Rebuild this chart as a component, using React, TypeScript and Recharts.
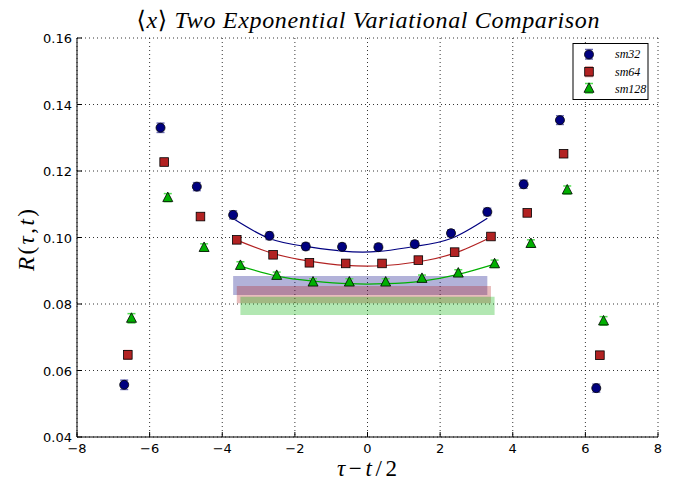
import { ComposedChart, Scatter, Line, XAxis, YAxis, CartesianGrid, ReferenceArea, ErrorBar } from 'recharts';

// tau - t/2 (each ensemble nudged sideways so the markers stay readable)
const sm32X = [-6.7, -5.7, -4.7, -3.7, -2.7, -1.7, -0.7, 0.3, 1.3, 2.3, 3.3, 4.3, 5.3, 6.3];
const sm64X = [-6.6, -5.6, -4.6, -3.6, -2.6, -1.6, -0.6, 0.4, 1.4, 2.4, 3.4, 4.4, 5.4, 6.4];
const sm128X = [-6.5, -5.5, -4.5, -3.5, -2.5, -1.5, -0.5, 0.5, 1.5, 2.5, 3.5, 4.5, 5.5, 6.5];

const sm32Y = [0.0557, 0.133, 0.1153, 0.1068, 0.1005, 0.0973, 0.0972, 0.0971, 0.098, 0.1013, 0.1077, 0.116, 0.1353, 0.0547];
const sm32Err = [0.0014, 0.0014, 0.0012, 0.0012, 0.0011, 0.001, 0.001, 0.001, 0.001, 0.001, 0.0011, 0.0012, 0.0013, 0.0012];
const sm64Y = [0.0647, 0.1227, 0.1063, 0.0993, 0.0948, 0.0924, 0.0922, 0.0922, 0.0932, 0.0956, 0.1003, 0.1074, 0.1252, 0.0646];
const sm64Err = [0.0013, 0.0009, 0.0009, 0.0008, 0.0008, 0.0008, 0.0008, 0.0008, 0.0008, 0.0008, 0.0008, 0.0008, 0.0009, 0.0011];
const sm128Y = [0.0757, 0.112, 0.097, 0.0916, 0.0886, 0.0866, 0.0866, 0.0866, 0.0877, 0.0893, 0.0921, 0.0982, 0.1143, 0.0749];
const sm128Err = [0.0014, 0.0012, 0.0011, 0.0011, 0.001, 0.001, 0.001, 0.001, 0.001, 0.001, 0.0011, 0.0011, 0.0012, 0.0013];

// two-exponential fit curves over the fit window
const sm32FitY = [0.1057, 0.0997, 0.0973, 0.0959, 0.0958, 0.0973, 0.0997, 0.1058];
const sm64FitY = [0.0992, 0.0952, 0.0929, 0.0916, 0.0915, 0.0927, 0.0953, 0.1001];
const sm128FitY = [0.0914, 0.0884, 0.0869, 0.0861, 0.0861, 0.0869, 0.0889, 0.092];

// extracted plateau bands [low, high]
const sm32Band = [0.0827, 0.0884];
const sm64Band = [0.0802, 0.0854];
const sm128Band = [0.0767, 0.0822];

const xTicks = [-8, -6, -4, -2, 0, 2, 4, 6, 8];
const yTicks = [0.04, 0.06, 0.08, 0.1, 0.12, 0.14, 0.16];

const BLUE = '#000080';
const RED = '#b22222';
const GREEN = '#00b000';
const BLUE_ERR = '#6a6ab5';
const RED_ERR = '#d58a8a';
const GREEN_ERR = '#55dd55';

const points = (xs: number[], ys: number[], errs: number[]) => xs.map((x, i) => ({ x, y: ys[i], err: errs[i] }));
const fit = (xs: number[], ys: number[]) => xs.slice(3, 11).map((x, i) => ({ x, y: ys[i] }));

const sm32Data = points(sm32X, sm32Y, sm32Err);
const sm64Data = points(sm64X, sm64Y, sm64Err);
const sm128Data = points(sm128X, sm128Y, sm128Err);

const CircleMark = (p: any) => <circle cx={p.cx} cy={p.cy} r={4.5} fill={BLUE} stroke="#000" strokeWidth={0.8} />;
const SquareMark = (p: any) => <rect x={p.cx - 4.3} y={p.cy - 4.3} width={8.6} height={8.6} fill={RED} stroke="#000" strokeWidth={0.8} />;
const TriangleMark = (p: any) => (
  <polygon points={`${p.cx},${p.cy - 5.5} ${p.cx - 5},${p.cy + 4} ${p.cx + 5},${p.cy + 4}`} fill={GREEN} stroke="#000" strokeWidth={0.8} />
);

const minus = (v: number) => String(v).replace('-', '\u2212');
const sans = 'DejaVu Sans';
const serif = '"Liberation Serif", "DejaVu Serif", serif';
const TICK = 5;

// matplotlib-style ticks: label outside, short tick mark pointing into the plot
const BottomTick = (p: any) => (
  <g>
    <line x1={p.x} x2={p.x} y1={p.y - 10} y2={p.y - 10 - TICK} stroke="#000" />
    <text x={p.x} y={p.y + 6} textAnchor="middle" fontSize={13} style={{ fontFamily: sans }} fill="#000">
      {minus(p.payload.value)}
    </text>
  </g>
);
const LeftTick = (p: any) => (
  <g>
    <line x1={p.x + 8} x2={p.x + 8 + TICK} y1={p.y} y2={p.y} stroke="#000" />
    <text x={p.x + 3} y={p.y + 5} textAnchor="end" fontSize={13} style={{ fontFamily: sans }} fill="#000">
      {p.payload.value.toFixed(2)}
    </text>
  </g>
);
const TopTick = (p: any) => <line x1={p.x} x2={p.x} y1={p.y} y2={p.y + TICK} stroke="#000" />;
const RightTick = (p: any) => <line x1={p.x - TICK} x2={p.x} y1={p.y} y2={p.y} stroke="#000" />;

const App = () => {
  return (
    <div style={{ position: 'absolute', left: 0, top: 0, width: 678, height: 484, background: '#fff' }}>
      <ComposedChart width={678} height={484} margin={{ top: 38, right: 20, bottom: 0, left: 0 }}>
        <CartesianGrid stroke="#000" strokeDasharray="1 3" strokeWidth={0.8} horizontalValues={yTicks} verticalValues={xTicks} />
        <XAxis type="number" dataKey="x" domain={[-8, 8]} ticks={xTicks} allowDataOverflow height={47}
          tickSize={0} tickMargin={10} tickLine={false} tick={BottomTick} axisLine={{ stroke: '#000' }} />
        <XAxis xAxisId="top" orientation="top" type="number" domain={[-8, 8]} ticks={xTicks} height={0}
          tickSize={0} tickMargin={0} tickLine={false} tick={TopTick} axisLine={{ stroke: '#000' }} />
        <YAxis type="number" domain={[0.04, 0.16]} ticks={yTicks} allowDataOverflow width={77}
          tickSize={0} tickMargin={8} tickLine={false} tick={LeftTick} axisLine={{ stroke: '#000' }} />
        <YAxis yAxisId="right" orientation="right" type="number" domain={[0.04, 0.16]} ticks={yTicks} width={0}
          tickSize={0} tickMargin={0} tickLine={false} tick={RightTick} axisLine={{ stroke: '#000' }} />

        <ReferenceArea x1={sm32X[3]} x2={sm32X[10]} y1={sm32Band[0]} y2={sm32Band[1]} fill={BLUE} fillOpacity={0.3} stroke="none" />
        <ReferenceArea x1={sm64X[3]} x2={sm64X[10]} y1={sm64Band[0]} y2={sm64Band[1]} fill={RED} fillOpacity={0.3} stroke="none" />
        <ReferenceArea x1={sm128X[3]} x2={sm128X[10]} y1={sm128Band[0]} y2={sm128Band[1]} fill={GREEN} fillOpacity={0.3} stroke="none" />

        <Line data={fit(sm32X, sm32FitY)} dataKey="y" type="natural" stroke={BLUE} strokeWidth={1.2} dot={false} isAnimationActive={false} />
        <Line data={fit(sm64X, sm64FitY)} dataKey="y" type="natural" stroke={RED} strokeWidth={1.2} dot={false} isAnimationActive={false} />
        <Line data={fit(sm128X, sm128FitY)} dataKey="y" type="natural" stroke={GREEN} strokeWidth={1.2} dot={false} isAnimationActive={false} />

        <Scatter name="sm32" data={sm32Data} dataKey="y" shape={CircleMark} isAnimationActive={false}>
          <ErrorBar dataKey="err" direction="y" width={4} stroke={BLUE_ERR} strokeWidth={1.5} isAnimationActive={false} />
        </Scatter>
        <Scatter name="sm64" data={sm64Data} dataKey="y" shape={SquareMark} isAnimationActive={false}>
          <ErrorBar dataKey="err" direction="y" width={4} stroke={RED_ERR} strokeWidth={1.5} isAnimationActive={false} />
        </Scatter>
        <Scatter name="sm128" data={sm128Data} dataKey="y" shape={TriangleMark} isAnimationActive={false}>
          <ErrorBar dataKey="err" direction="y" width={4} stroke={GREEN_ERR} strokeWidth={1.5} isAnimationActive={false} />
        </Scatter>
      </ComposedChart>

      <svg width={678} height={484} style={{ position: 'absolute', left: 0, top: 0, pointerEvents: 'none', fontFamily: serif }}>
        <text x={368} y={28} textAnchor="middle" fontSize={24} fontStyle="italic" textLength={463} lengthAdjust="spacing">
          <tspan fontStyle="normal">⟨</tspan>x<tspan fontStyle="normal">⟩</tspan> Two Exponential Variational Comparison
        </text>
        <text x={367} y={476} textAnchor="middle" fontSize={23} fontStyle="italic" textLength={60} lengthAdjust="spacing">
          τ<tspan fontStyle="normal">−</tspan>t<tspan fontStyle="normal">/2</tspan>
        </text>
        <text transform="translate(34,240) rotate(-90)" textAnchor="middle" fontSize={23} fontStyle="italic" textLength={62} lengthAdjust="spacing">
          R<tspan fontStyle="normal">(</tspan>τ<tspan fontStyle="normal">,</tspan>t<tspan fontStyle="normal">)</tspan>
        </text>

        <rect x={573} y={43.5} width={75} height={56} fill="#fff" stroke="#000" strokeWidth={1} />
        <g>
          <line x1={589} y1={49.5} x2={589} y2={59} stroke={BLUE_ERR} strokeWidth={1.5} />
          <line x1={585} y1={49.5} x2={593} y2={49.5} stroke={BLUE_ERR} strokeWidth={1.5} />
          <line x1={585} y1={59} x2={593} y2={59} stroke={BLUE_ERR} strokeWidth={1.5} />
          <circle cx={589} cy={54.5} r={4.5} fill={BLUE} stroke="#000" strokeWidth={0.8} />
          <text x={615} y={58} fontSize={12} fontStyle="italic">sm32</text>
        </g>
        <g>
          <line x1={589} y1={67} x2={589} y2={76.5} stroke={RED_ERR} strokeWidth={1.5} />
          <line x1={585} y1={67} x2={593} y2={67} stroke={RED_ERR} strokeWidth={1.5} />
          <line x1={585} y1={76.5} x2={593} y2={76.5} stroke={RED_ERR} strokeWidth={1.5} />
          <rect x={584.7} y={67.4} width={8.6} height={8.6} fill={RED} stroke="#000" strokeWidth={0.8} />
          <text x={615} y={75.5} fontSize={12} fontStyle="italic">sm64</text>
        </g>
        <g>
          <line x1={589} y1={83.5} x2={589} y2={93} stroke={GREEN_ERR} strokeWidth={1.5} />
          <line x1={585} y1={83.5} x2={593} y2={83.5} stroke={GREEN_ERR} strokeWidth={1.5} />
          <line x1={585} y1={93} x2={593} y2={93} stroke={GREEN_ERR} strokeWidth={1.5} />
          <polygon points="589,82.8 584,92.3 594,92.3" fill={GREEN} stroke="#000" strokeWidth={0.8} />
          <text x={615} y={92.5} fontSize={12} fontStyle="italic">sm128</text>
        </g>
      </svg>
    </div>
  );
};

export default App;
